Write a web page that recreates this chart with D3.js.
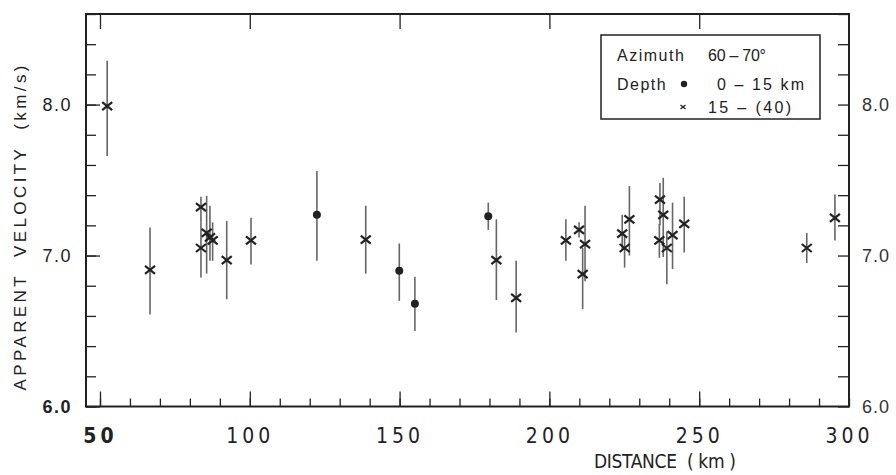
<!DOCTYPE html>
<html>
<head>
<meta charset="utf-8">
<script src="https://cdn.jsdelivr.net/npm/d3@7"></script>
<style>
  html, body { margin: 0; padding: 0; background: #fff; }
  svg { display: block; }
</style>
</head>
<body>
<div id="chart"></div>
<script>
// ---- Data ----
const distanceKm = [52.4, 66.7, 83.7, 83.7, 85.6, 86.7, 87.6, 92.3, 100.4, 122.4, 138.7, 149.9, 155.1, 179.6, 182.3, 188.9, 205.5, 209.9, 211.9, 211.1, 224.3, 225.1, 226.7, 236.9, 238.0, 236.7, 239.2, 241.1, 245.0, 285.9, 295.3];
const velocity   = [7.99, 6.905, 7.32, 7.05, 7.15, 7.12, 7.10, 6.97, 7.10, 7.27, 7.105, 6.90, 6.68, 7.26, 6.97, 6.72, 7.10, 7.17, 7.075, 6.877, 7.145, 7.05, 7.24, 7.37, 7.27, 7.10, 7.05, 7.135, 7.21, 7.05, 7.25];
const upperBound = [8.29, 7.185, 7.39, 7.22, 7.395, 7.33, 7.22, 7.23, 7.25, 7.56, 7.33, 7.08, 6.86, 7.35, 7.24, 6.965, 7.24, 7.22, 7.33, 7.05, 7.27, 7.14, 7.46, 7.48, 7.515, 7.21, 7.16, 7.35, 7.39, 7.15, 7.405];
const lowerBound = [7.66, 6.61, 7.22, 6.855, 6.88, 6.965, 6.965, 6.71, 6.94, 6.965, 6.88, 6.70, 6.50, 7.17, 6.705, 6.49, 6.965, 7.12, 6.83, 6.645, 7.03, 6.92, 7.00, 7.20, 6.99, 6.985, 6.81, 6.91, 7.02, 6.95, 7.10];
const depthClass = ["deep","deep","deep","deep","deep","deep","deep","deep","deep","shallow","deep","shallow","shallow","shallow","deep","deep","deep","deep","deep","deep","deep","deep","deep","deep","deep","deep","deep","deep","deep","deep","deep"];

const xDomain = [45.33, 300];
const yDomain = [6.0, 8.6];
const xMajorTicks = [50, 100, 150, 200, 250, 300];
const xTickLabels = ["50", "100", "150", "200", "250", "300"];
const xMinorTicks = d3.range(50, 301, 10);
const yMajorTicks = [6.0, 7.0, 8.0];
const yTickLabels = ["6.0", "7.0", "8.0"];
const yMinorTicks = d3.range(6.0, 8.61, 0.2);

const yTitle = "APPARENT  VELOCITY  (km/s)";
const xTitle = "DISTANCE  ( km )";
const legendRows = [
  { label: "Azimuth", value: "60 – 70°" },
  { label: "Depth", value: "0 – 15 km" },
  { label: "", value: "15 – (40)" }
];

// ---- Layout ----
const W = 896, H = 475;
const pL = 86, pR = 849, pT = 14, pB = 406.5;

const svg = d3.select("#chart").append("svg").attr("width", W).attr("height", H);

const x = d3.scaleLinear().domain(xDomain).range([pL, pR]);
const y = d3.scaleLinear().domain(yDomain).range([pB, pT]);

const ink = "#222";

function styleAxis(g) {
  g.select(".domain").remove();
  g.selectAll(".tick line").attr("stroke", ink).attr("stroke-width", 1.3);
}

// bottom minor
svg.append("g").attr("transform", `translate(0,${pB})`)
  .call(d3.axisBottom(x).tickValues(xMinorTicks).tickSize(-8).tickFormat(""))
  .call(styleAxis);
// bottom major
svg.append("g").attr("transform", `translate(0,${pB})`)
  .call(d3.axisBottom(x).tickValues(xMajorTicks.filter(v => v < 300)).tickSize(-15).tickFormat(""))
  .call(styleAxis);
// bottom labels
svg.append("g").attr("transform", `translate(0,${pB})`)
  .call(d3.axisBottom(x).tickValues(xMajorTicks).tickSize(0).tickPadding(36)
        .tickFormat((d, i) => xTickLabels[i]))
  .call(g => {
    g.select(".domain").remove();
    g.selectAll(".tick text")
      .attr("font-family", "'Liberation Sans Narrow', 'DejaVu Sans Condensed', sans-serif")
      .attr("font-size", 21).attr("fill", ink).attr("letter-spacing", 4)
      .attr("font-weight", (d, i) => i === 0 ? "bold" : "normal")
      .attr("dy", "0");
  });

// top major ticks
svg.append("g").attr("transform", `translate(0,${pT})`)
  .call(d3.axisTop(x).tickValues(xMajorTicks.filter(v => v < 300)).tickSize(-15).tickFormat(""))
  .call(styleAxis);

// left minor + major
svg.append("g").attr("transform", `translate(${pL},0)`)
  .call(d3.axisLeft(y).tickValues(yMinorTicks).tickSize(-10).tickFormat(""))
  .call(styleAxis);
svg.append("g").attr("transform", `translate(${pL},0)`)
  .call(d3.axisLeft(y).tickValues(yMajorTicks).tickSize(-14).tickFormat(""))
  .call(styleAxis);
// left labels
svg.append("g").attr("transform", `translate(${pL},0)`)
  .call(d3.axisLeft(y).tickValues(yMajorTicks).tickSize(0).tickPadding(14)
        .tickFormat((d, i) => yTickLabels[i]))
  .call(g => {
    g.select(".domain").remove();
    g.selectAll(".tick text")
      .attr("font-family", "'Liberation Sans', Arial, sans-serif")
      .attr("font-size", 18).attr("fill", ink).attr("letter-spacing", 1.5)
      .attr("font-weight", (d, i) => i === 0 ? "bold" : "normal");
  });

// right minor ticks + labels
svg.append("g").attr("transform", `translate(${pR},0)`)
  .call(d3.axisRight(y).tickValues(yMinorTicks).tickSize(-11).tickFormat(""))
  .call(styleAxis);
svg.append("g").attr("transform", `translate(${pR},0)`)
  .call(d3.axisRight(y).tickValues(yMajorTicks).tickSize(0).tickPadding(13)
        .tickFormat((d, i) => yTickLabels[i]))
  .call(g => {
    g.select(".domain").remove();
    g.selectAll(".tick text")
      .attr("font-family", "'Liberation Sans', Arial, sans-serif")
      .attr("font-size", 18).attr("fill", "#333").attr("letter-spacing", 1);
  });

// frame
svg.append("rect")
  .attr("x", pL).attr("y", pT)
  .attr("width", pR - pL).attr("height", pB - pT)
  .attr("fill", "none").attr("stroke", ink).attr("stroke-width", 2);

// error bars
const idx = d3.range(distanceKm.length);
svg.append("g").selectAll("line").data(idx).join("line")
  .attr("x1", i => x(distanceKm[i])).attr("x2", i => x(distanceKm[i]))
  .attr("y1", i => y(upperBound[i])).attr("y2", i => y(lowerBound[i]))
  .attr("stroke", "#666").attr("stroke-width", 1.6);

// markers
const s = 5;
svg.append("g").selectAll("path").data(idx.filter(i => depthClass[i] === "deep")).join("path")
  .attr("d", i => {
    const cx = x(distanceKm[i]), cy = y(velocity[i]);
    return `M${cx - s},${cy - s * 0.8}L${cx + s},${cy + s * 0.8}M${cx - s},${cy + s * 0.8}L${cx + s},${cy - s * 0.8}`;
  })
  .attr("stroke", ink).attr("stroke-width", 2.2).attr("fill", "none");
svg.append("g").selectAll("circle").data(idx.filter(i => depthClass[i] === "shallow")).join("circle")
  .attr("cx", i => x(distanceKm[i])).attr("cy", i => y(velocity[i]))
  .attr("r", 4).attr("fill", ink);

// axis titles
svg.append("text")
  .attr("transform", "translate(26,228) rotate(-90)")
  .attr("text-anchor", "middle")
  .attr("font-family", "'Liberation Sans', Arial, sans-serif")
  .attr("font-size", 17).attr("fill", ink)
  .attr("textLength", 325).attr("lengthAdjust", "spacing")
  .attr("xml:space", "preserve")
  .text(yTitle);

svg.append("text")
  .attr("x", 594).attr("y", 468)
  .attr("font-family", "'Liberation Sans Narrow', 'DejaVu Sans Condensed', sans-serif")
  .attr("font-size", 19).attr("fill", ink)
  .attr("textLength", 142).attr("lengthAdjust", "spacing")
  .attr("xml:space", "preserve")
  .text(xTitle);

// legend
const lg = svg.append("g");
lg.append("rect").attr("x", 601).attr("y", 35).attr("width", 219).attr("height", 84)
  .attr("fill", "#fff").attr("stroke", ink).attr("stroke-width", 1.5);
const lfont = "'Liberation Sans', Arial, sans-serif";
lg.append("text").attr("x", 617).attr("y", 61).attr("font-family", lfont).attr("font-size", 16)
  .attr("letter-spacing", 1.5).attr("fill", ink).text(legendRows[0].label);
lg.append("text").attr("x", 708).attr("y", 61).attr("font-family", lfont).attr("font-size", 16)
  .attr("fill", ink).attr("textLength", 58).attr("lengthAdjust", "spacing").text(legendRows[0].value);
lg.append("text").attr("x", 617).attr("y", 90).attr("font-family", lfont).attr("font-size", 16)
  .attr("letter-spacing", 1.5).attr("fill", ink).text(legendRows[1].label);
lg.append("circle").attr("cx", 684).attr("cy", 84).attr("r", 3.2).attr("fill", ink);
lg.append("text").attr("x", 717).attr("y", 90).attr("font-family", lfont).attr("font-size", 16)
  .attr("fill", ink).attr("textLength", 87).attr("lengthAdjust", "spacing").text(legendRows[1].value);
lg.append("path")
  .attr("d", "M680.5,105L685.5,109M680.5,109L685.5,105")
  .attr("stroke", ink).attr("stroke-width", 1.3);
lg.append("text").attr("x", 708).attr("y", 113).attr("font-family", lfont).attr("font-size", 16)
  .attr("fill", ink).attr("textLength", 83).attr("lengthAdjust", "spacing").text(legendRows[2].value);
</script>
</body>
</html>
